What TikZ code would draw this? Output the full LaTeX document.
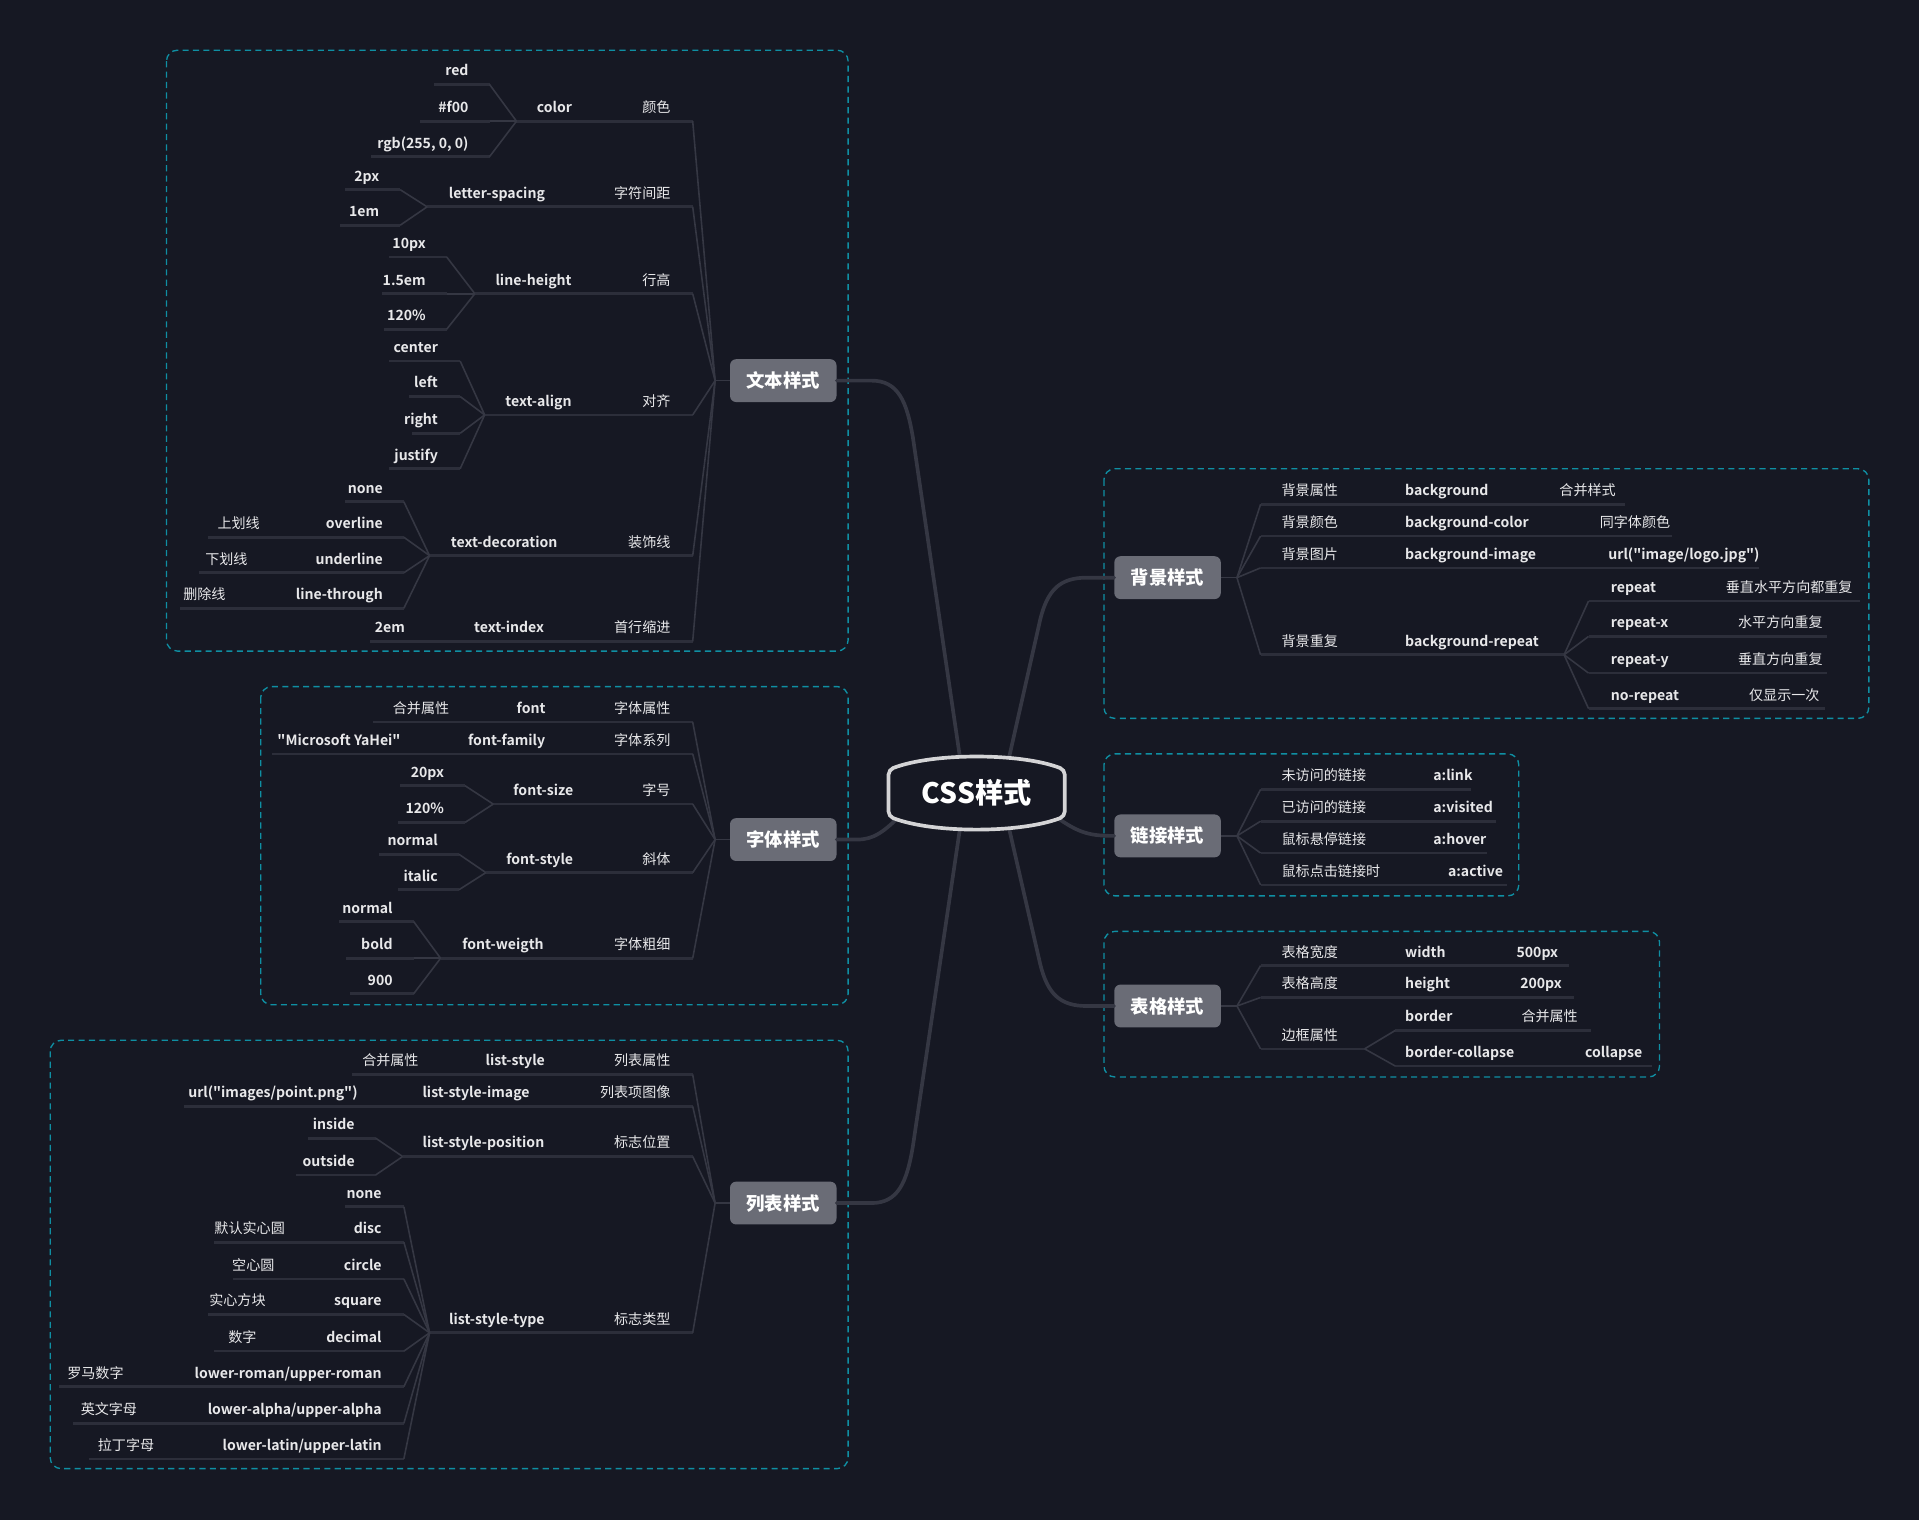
\documentclass[tikz,border=0pt]{standalone}
\usepackage{fontspec}
\setmainfont{Noto Sans CJK SC}
\newfontfamily\medfont{Noto Sans CJK SC Bold}
\definecolor{bg}{HTML}{161823}
\definecolor{wire}{HTML}{353743}
\definecolor{ulc}{HTML}{2C2E3A}
\definecolor{frame}{HTML}{0F8FA3}
\definecolor{topicfill}{HTML}{6A6C76}
\definecolor{rootline}{HTML}{D4D4D6}
\definecolor{ink}{HTML}{E8E8EA}

\begin{document}
\begin{tikzpicture}[x=1pt,y=-1pt,
  en/.style={font=\medfont\fontsize{11.5}{13}\selectfont,text=ink,inner sep=0pt,anchor=base},
  zh/.style={font=\fontsize{11.5}{13}\selectfont,text=ink,inner sep=0pt,anchor=base},
  ul/.style={draw=ulc,line width=2.2pt},
  fan/.style={draw=wire,line width=1.3pt},
  trunk/.style={draw=wire,line width=3pt,line cap=round},
  group/.style={draw=frame,line width=1.1pt,dash pattern=on 5pt off 3.5pt,rounded corners=9pt},
  topic/.style={fill=topicfill,rounded corners=5pt,minimum width=87pt,minimum height=35pt,
    inner sep=0pt,text=white,font=\bfseries\fontsize{15}{17}\selectfont}]
  \fill[bg] (0,0) rectangle (1568,1242);
  \useasboundingbox (0,0) rectangle (1568,1242);

  % dashed groups
  \draw[group] (136,41) rectangle (693,532);
  \draw[group] (213,561) rectangle (693,821);
  \draw[group] (41,850) rectangle (693,1200);
  \draw[group] (902,383) rectangle (1527,587);
  \draw[group] (902,616) rectangle (1241,732);
  \draw[group] (902,761) rectangle (1356,880);

  \node[topic] (wb) at (640,311) {文本样式};
  \node[topic] (zt) at (640,686) {字体样式};
  \node[topic] (lb) at (640,983) {列表样式};
  \node[topic] (bj) at (954,472) {背景样式};
  \node[topic] (lj) at (954,683) {链接样式};
  \node[topic] (bge) at (954,822) {表格样式};

  \coordinate (r-nw) at (786,630);
  \coordinate (r-ne) at (822,630);
  \coordinate (r-sw) at (786,666);
  \coordinate (r-se) at (822,666);
  \coordinate (r-w) at (738,664);
  \coordinate (r-e) at (858,664);
  \draw[trunk] (wb.east) -- (712,311) .. controls (734,311) and (741,328) .. (746,358) -- (r-nw);
  \draw[trunk] (lb.east) -- (712,983) .. controls (734,983) and (741,966) .. (746,936) -- (r-sw);
  \draw[trunk] (zt.east) -- (700,686) .. controls (714,686) and (722,680) .. (r-w);
  \draw[trunk] (r-ne) -- (850,506) .. controls (856,482) and (866,472) .. (888,472) -- (bj.west);
  \draw[trunk] (r-e) .. controls (880,680) and (888,683) .. (lj.west);
  \draw[trunk] (r-se) -- (850,788) .. controls (856,812) and (866,822) .. (888,822) -- (bge.west);

  \begin{scope}[shift={(798,648)}]
    \filldraw[fill=bg,draw=rootline,line width=3pt,rounded corners=4pt]
      (-72,-19) .. controls (-36,-33) and (36,-33) .. (72,-19) -- (72,19)
      .. controls (36,33) and (-36,33) .. (-72,19) -- cycle;
  \end{scope}
  \node[font=\bfseries\fontsize{23}{26}\selectfont,text=white,inner sep=0pt] (root) at (798,648) {CSS样式};

  \coordinate (wb-h) at ([xshift=-12pt]wb.west);
  \coordinate (zt-h) at ([xshift=-12pt]zt.west);
  \coordinate (lb-h) at ([xshift=-12pt]lb.west);
  \coordinate (bj-h) at ([xshift=13pt]bj.east);
  \coordinate (lj-h) at ([xshift=13pt]lj.east);
  \coordinate (bge-h) at ([xshift=13pt]bge.east);
  \foreach \t in {wb,zt,lb} \draw[fan] (\t-h) -- (\t.west);
  \foreach \t in {bj,lj,bge} \draw[fan] (\t-h) -- (\t.east);

  % 文本样式
  \foreach \n/\a/\b/\y in {red/355/400/69, f00/343/400/99, rgb/303/400/128, color/422/566/99,
      px2/282/327/155, em1/278/327/184, ls/349/566/169,
      px10/318/365/210, em15/312/365/240, pc1/314/365/269, lh/388/566/240,
      ctr/318/376/295, lft/334/376/324, rgt/337/376/354, jus/318/376/383, ta/396/566/339,
      tdn/282/330/410, ovl/170/330/439, unl/163/330/468, lth/147/330/497, td/351/566/454,
      ti/302/566/524}
    \draw[ul] (\a,\y) coordinate (\n-l) -- (\b,\y) coordinate (\n-r);
  \foreach \c/\p in {red/color, f00/color, rgb/color, px2/ls, em1/ls, px10/lh, em15/lh, pc1/lh,
      ctr/ta, lft/ta, rgt/ta, jus/ta, tdn/td, ovl/td, unl/td, lth/td}
    \draw[fan] (\c-r) -- (\p-l);
  \foreach \p in {color, ls, lh, ta, td, ti}
    \draw[fan] (\p-r) -- (wb-h);
  \foreach \x/\y/\txt [count=\i] in {383/62/red, 383/92/\#f00, 383/121/{rgb(255, 0, 0)},
      310/148/2px, 310/177/1em, 348/203/10px, 348/233/1.5em, 348/262/120\%,
      358/288/center, 358/317/left, 358/347/right, 358/376/justify,
      313/403/none, 313/432/overline, 313/461/underline, 313/490/line-through, 331/517/2em}
    \node[en,anchor=base east] (wbv\i) at (\x,\y) {\txt};
  \foreach \x/\y/\txt [count=\i] in {453/92/color, 406/162/letter-spacing, 436/233/line-height,
      440/332/text-align, 412/447/text-decoration, 416/517/text-index}
    \node[en] (wbk\i) at (\x,\y) {\txt};
  \foreach \y/\txt [count=\i] in {92/颜色, 162/字符间距, 233/行高, 332/对齐, 447/装饰线, 517/首行缩进}
    \node[zh,anchor=base east] (wbz\i) at (548,\y) {\txt};
  \foreach \x/\y/\txt [count=\i] in {195/432/上划线, 185/461/下划线, 167/490/删除线}
    \node[zh] (wbc\i) at (\x,\y) {\txt};

  % 字体样式
  \foreach \n/\a/\b/\y in {zt1/305/566/590, zt2/222/566/616,
      s20/327/380/642, s120/325/380/672, fs/403/566/657,
      fsn/310/375/698, fsi/325/375/727, fst/397/566/713,
      fwn/277/338/753, fwb/283/338/783, fw9/286/338/812, fw/360/566/783}
    \draw[ul] (\a,\y) coordinate (\n-l) -- (\b,\y) coordinate (\n-r);
  \foreach \c/\p in {s20/fs, s120/fs, fsn/fst, fsi/fst, fwn/fw, fwb/fw, fw9/fw}
    \draw[fan] (\c-r) -- (\p-l);
  \foreach \p in {zt1, zt2, fs, fst, fw}
    \draw[fan] (\p-r) -- (zt-h);
  \foreach \x/\y/\txt [count=\i] in {363/635/20px, 363/665/120\%, 358/691/normal, 358/720/italic,
      321/746/normal, 321/776/bold, 321/805/900}
    \node[en,anchor=base east] (ztv\i) at (\x,\y) {\txt};
  \foreach \x/\y/\txt [count=\i] in {434/583/font, 414/609/font-family, 444/650/font-size,
      441/706/font-style, 411/776/font-weigth, 277/609/"Microsoft YaHei"}
    \node[en] (ztk\i) at (\x,\y) {\txt};
  \foreach \y/\txt [count=\i] in {583/字体属性, 609/字体系列, 650/字号, 706/斜体, 776/字体粗细}
    \node[zh,anchor=base east] (ztz\i) at (548,\y) {\txt};
  \node[zh] (ztc1) at (344,583) {合并属性};

  % 列表样式
  \foreach \n/\a/\b/\y in {lb1/288/566/878, lb2/150/566/904,
      ins/252/307/930, outs/242/307/960, lsp/329/566/945,
      lt0/282/330/986, lt1/175/330/1015, lt2/190/330/1045, lt3/170/330/1074,
      lt4/175/330/1104, lt5/48/330/1133, lt6/60/330/1163, lt7/73/330/1192, lst/351/566/1089}
    \draw[ul] (\a,\y) coordinate (\n-l) -- (\b,\y) coordinate (\n-r);
  \foreach \c/\p in {ins/lsp, outs/lsp, lt0/lst, lt1/lst, lt2/lst, lt3/lst, lt4/lst,
      lt5/lst, lt6/lst, lt7/lst}
    \draw[fan] (\c-r) -- (\p-l);
  \foreach \p in {lb1, lb2, lsp, lst}
    \draw[fan] (\p-r) -- (lb-h);
  \foreach \x/\y/\txt [count=\i] in {290/923/inside, 290/953/outside, 312/979/none, 312/1008/disc,
      312/1038/circle, 312/1067/square, 312/1097/decimal, 312/1126/{lower-roman/upper-roman},
      312/1156/{lower-alpha/upper-alpha}, 312/1185/{lower-latin/upper-latin}}
    \node[en,anchor=base east] (lbv\i) at (\x,\y) {\txt};
  \foreach \x/\y/\txt [count=\i] in {421/871/list-style, 223/897/{url("images/point.png")},
      389/897/list-style-image, 395/938/list-style-position, 406/1082/list-style-type}
    \node[en] (lbk\i) at (\x,\y) {\txt};
  \foreach \y/\txt [count=\i] in {871/列表属性, 897/列表项图像, 938/标志位置, 1082/标志类型}
    \node[zh,anchor=base east] (lbz\i) at (548,\y) {\txt};
  \foreach \x/\y/\txt [count=\i] in {319/871/合并属性, 204/1008/默认实心圆, 207/1038/空心圆,
      194/1067/实心方块, 198/1097/数字, 78/1126/罗马数字, 89/1156/英文字母, 103/1185/拉丁字母}
    \node[zh] (lbc\i) at (\x,\y) {\txt};

  % 背景样式
  \foreach \n/\a/\b/\y in {bg1/1030/1328/412, bg2/1030/1366/438, bg3/1030/1437/464,
      bg4/1030/1278/535, rp/1298/1520/491, rpx/1298/1493/520, rpy/1298/1493/550, nrp/1298/1491/579}
    \draw[ul] (\a,\y) coordinate (\n-l) -- (\b,\y) coordinate (\n-r);
  \foreach \c in {bg1, bg2, bg3, bg4} \draw[fan] (bj-h) -- (\c-l);
  \foreach \c in {rp, rpx, rpy, nrp} \draw[fan] (bg4-r) -- (\c-l);
  \foreach \x/\y/\txt [count=\i] in {1047/405/背景属性, 1047/431/背景颜色, 1047/457/背景图片,
      1047/528/背景重复, 1274/405/合并样式, 1307/431/同字体颜色, 1410/484/垂直水平方向都重复,
      1420/513/水平方向重复, 1420/543/垂直方向重复, 1429/572/仅显示一次}
    \node[zh,anchor=base west] (bjz\i) at (\x,\y) {\txt};
  \foreach \x/\y/\txt [count=\i] in {1148/405/background, 1148/431/background-color,
      1148/457/background-image, 1148/528/background-repeat, 1314/457/{url("image/logo.jpg")},
      1316/484/repeat, 1316/513/repeat-x, 1316/543/repeat-y, 1316/572/no-repeat}
    \node[en,anchor=base west] (bjv\i) at (\x,\y) {\txt};

  % 链接样式
  \foreach \n/\a/\b/\y in {lk1/1030/1202/645, lk2/1030/1222/671, lk3/1030/1215/697, lk4/1030/1231/723}
    \draw[ul] (\a,\y) coordinate (\n-l) -- (\b,\y) coordinate (\n-r);
  \foreach \c in {lk1, lk2, lk3, lk4} \draw[fan] (lj-h) -- (\c-l);
  \foreach \x/\y/\txt [count=\i] in {1047/638/未访问的链接, 1047/664/已访问的链接,
      1047/690/鼠标悬停链接, 1047/716/鼠标点击链接时}
    \node[zh,anchor=base west] (ljz\i) at (\x,\y) {\txt};
  \foreach \x/\y/\txt [count=\i] in {1171/638/a:link, 1171/664/a:visited, 1171/690/a:hover, 1183/716/a:active}
    \node[en,anchor=base west] (ljv\i) at (\x,\y) {\txt};

  % 表格样式
  \foreach \n/\a/\b/\y in {tb1/1030/1282/789, tb2/1030/1286/815, tb3/1030/1115/857,
      bd/1140/1300/842, bdc/1140/1350/871}
    \draw[ul] (\a,\y) coordinate (\n-l) -- (\b,\y) coordinate (\n-r);
  \foreach \c in {tb1, tb2, tb3} \draw[fan] (bge-h) -- (\c-l);
  \foreach \c in {bd, bdc} \draw[fan] (tb3-r) -- (\c-l);
  \foreach \x/\y/\txt [count=\i] in {1047/782/表格宽度, 1047/808/表格高度, 1047/850/边框属性, 1243/835/合并属性}
    \node[zh,anchor=base west] (bgz\i) at (\x,\y) {\txt};
  \foreach \x/\y/\txt [count=\i] in {1148/782/width, 1239/782/500px, 1148/808/height, 1242/808/200px,
      1148/835/border, 1148/864/border-collapse, 1295/864/collapse}
    \node[en,anchor=base west] (bgv\i) at (\x,\y) {\txt};
\end{tikzpicture}
\end{document}
